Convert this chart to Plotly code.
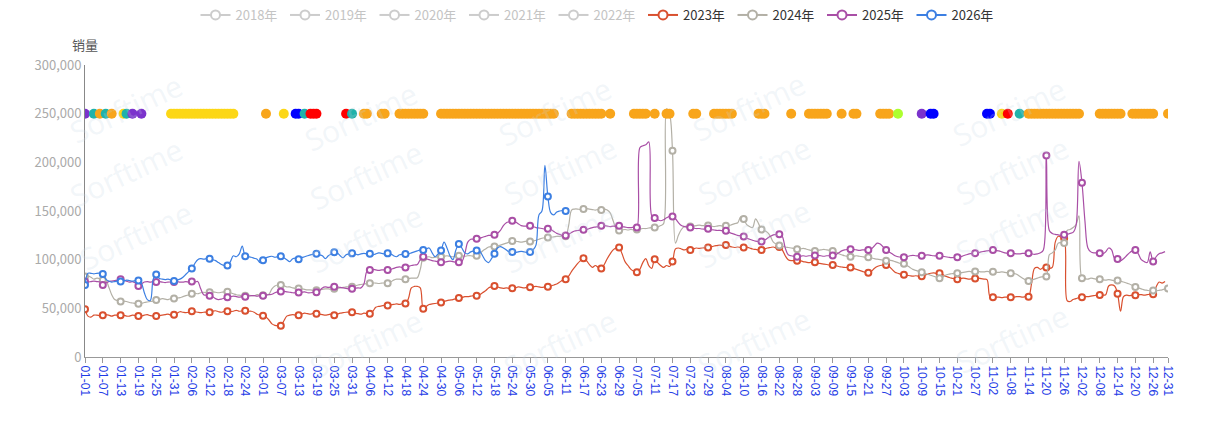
import plotly.graph_objects as go
import pandas as pd

# ---------------- categories (leap-year calendar, MM-DD) ----------------
day_labels = pd.date_range("2024-01-01", "2024-12-31").strftime("%m-%d").tolist()

# ---------------- daily sales, in thousands ----------------
sales_2023_k = [
    49, 42, 41, 43, 43, 42.5,
    43, 43.5, 43, 42, 43, 43,
    43, 43, 42, 42, 43, 42.5,
    42, 42, 43, 43.5, 42.5, 42,
    42, 42.5, 43, 43.5, 44, 43,
    43.5, 45, 46.5, 46, 45.5, 46,
    47, 46.5, 46, 45.5, 46, 46,
    46, 47, 47.5, 46.5, 46, 47,
    47, 46.5, 47, 48, 47, 47.5,
    47.5, 47, 47, 46, 44, 43,
    42.5, 41, 38, 34, 32.5, 32,
    32, 37, 42, 43, 43.5, 43,
    43, 44, 45, 44.5, 44, 45,
    44.5, 44, 43.5, 43, 43.5, 44,
    43, 44, 45, 45.5, 46, 46,
    46, 45, 44.5, 44, 45, 44.5,
    44.5, 47, 51, 52, 52.5, 53,
    53, 53.5, 54, 54.5, 54, 55,
    55, 60, 71, 72.5, 72.5, 71,
    49.5, 52, 54, 54.5, 55, 55.5,
    56, 57, 58, 58.5, 59, 60,
    60.5, 61, 62, 62, 62.5, 63,
    63, 64, 66, 68, 71, 72,
    73, 72, 71, 70.5, 71, 70.5,
    70.6, 71, 72, 71.5, 71, 71.5,
    71.7, 72, 72.5, 72, 71.5, 72,
    72.3, 73, 74, 75, 77, 79,
    80, 83, 88, 92, 96, 99,
    101.5, 99, 95, 92, 94, 92,
    91, 95, 101, 106, 110, 112,
    112.5, 106, 98, 94, 90, 88,
    87, 90, 97, 101, 94, 91,
    100.5, 97, 94, 92, 94, 93,
    98, 111, 112, 111, 110, 111,
    110, 111, 112, 111.5, 112, 112.5,
    112.5, 113, 114, 114.5, 115, 114.5,
    115, 114, 113, 112.5, 113, 112.5,
    112.5, 113, 112, 111, 110.5, 110,
    110, 111, 112, 112.5, 113, 112,
    113, 110, 104, 100, 99, 99,
    98.8, 99, 98, 97.5, 97, 97.5,
    97.4, 96.5, 96, 95.5, 95, 94.5,
    94.5, 94, 93, 92.5, 92, 92,
    92, 91, 90, 89, 88, 87,
    86.5, 88, 91, 93, 94, 94.5,
    94.5, 93, 90, 87, 86, 85,
    84.4, 84, 83.5, 83, 83.5, 83,
    83, 84, 85, 86, 86.5, 86,
    86, 85, 83, 82, 81, 80.5,
    80, 80.5, 81, 80.5, 80, 80.5,
    80.6, 81, 80.5, 80, 79.5, 62,
    61.5, 61.5, 61.5, 61, 61.5, 61.5,
    61.5, 61.5, 62, 62, 61.5, 62,
    62, 75, 91, 92, 90, 92,
    92, 91, 92, 118, 124, 123,
    122, 58, 57, 59, 60, 61,
    61.5, 62, 62, 62.5, 63, 63.5,
    63.8, 63.5, 64, 73, 74, 73,
    65, 47, 62, 63.5, 63, 63.5,
    63.5, 64, 64, 63.5, 64, 64.5,
    64.5, 72, 77, 76, 77.5,
]

sales_2024_k = [
    82.6, 83, 82, 80, 81, 80.5,
    79, 79, 72, 64, 59, 58,
    57, 57.5, 57, 56, 55.5, 55,
    54.7, 55, 56, 56.5, 57, 57.5,
    58.5, 59, 60, 59.5, 59, 60,
    60, 60.5, 61, 62, 63, 64,
    65, 65.5, 65, 66, 66.5, 66,
    66.5, 67, 66.5, 66, 66.5, 67,
    67, 66, 65, 64, 63.5, 63,
    63, 63.5, 63, 63, 64, 63.5,
    63.5, 64, 64.5, 70, 73, 74,
    74, 73.5, 72, 72, 71, 70.5,
    70.3, 70, 69.5, 69, 69, 68.5,
    68.5, 69, 69.5, 70, 70, 69.5,
    70, 70.5, 71, 71.5, 72, 72,
    72.3, 73, 74, 74.5, 75, 75.5,
    75.8, 76, 76, 75.5, 76, 76,
    75.8, 77, 79, 80, 80, 79.5,
    80, 80.5, 81, 81, 81.5, 90,
    102, 102.5, 103, 102, 102.5, 103,
    103, 103.5, 104, 103.5, 103, 103.5,
    104, 104, 103.5, 104, 104, 103.5,
    104, 106, 109, 111, 113, 113.5,
    113.5, 114, 115, 116, 117, 118,
    119.3, 119, 118.5, 118, 118.5, 119,
    118.6, 119, 120, 121, 122, 122.5,
    122.7, 123, 123.5, 124, 124, 124.5,
    124, 135, 151, 152, 152, 151.5,
    152, 152.5, 152, 151.5, 151, 151.5,
    151, 152, 151, 148, 140, 132,
    130, 130.5, 131, 130.5, 131, 130.5,
    131, 131.5, 132, 132, 132.5, 133,
    133, 133.5, 135, 137, 255, 250,
    212, 117, 125, 131, 134, 134.5,
    134, 134.5, 135, 135.5, 135, 135,
    135, 134.5, 134, 134.5, 135, 134.5,
    134.8, 135, 136, 137, 138, 144,
    141.7, 136, 134, 133, 142, 137,
    131, 130, 128, 124, 118, 116,
    114.5, 114, 113, 112.5, 112, 111.5,
    110.8, 111, 111.5, 111, 110, 109.5,
    109, 109.5, 110, 110.5, 110, 109.5,
    109, 108, 106, 105, 104, 103.5,
    103, 103.5, 104, 103.5, 103, 102.5,
    102.6, 102, 101, 100.5, 100, 99.5,
    99, 99.5, 99, 98, 97, 96,
    95.7, 94, 92, 90, 89, 88,
    87, 86, 85, 84, 83, 82,
    81, 82, 84, 85, 85.5, 86,
    86, 86.5, 87, 87.5, 88, 87.5,
    87.8, 88, 87.5, 87.5, 88, 87.5,
    87.5, 87, 87, 87.5, 87, 86.5,
    86, 86, 85, 83, 81, 79,
    78.2, 79, 80, 81, 82, 82.5,
    82.6, 105, 107, 110, 117, 117.5,
    117, 130, 131, 133, 136, 145,
    81, 80.5, 80, 81, 80.5, 80,
    80, 79.5, 79, 79.5, 79, 78.5,
    78.5, 78, 77, 76, 75, 73.5,
    72, 71, 70, 69, 68.5, 68,
    68.2, 68, 68.5, 69, 70, 70.3,
]

sales_2025_k = [
    77.5, 77, 77.5, 78, 77.5, 77,
    74, 76, 77.5, 78, 78.5, 79,
    80, 79, 78, 77, 77.5, 76,
    73, 75, 77, 77.5, 77, 77.5,
    77, 77.5, 77, 76.5, 77, 77,
    77, 77.5, 77, 77, 77.5, 77,
    77.5, 77, 77.5, 70, 64, 63.5,
    63, 62, 60, 59, 59.5, 60.5,
    61.4, 62, 62.5, 62, 61.5, 62,
    62, 62.5, 63, 63, 62.5, 63,
    63, 63.5, 64, 64.5, 66, 67,
    67.2, 67.5, 67, 66.5, 66, 66,
    66.2, 66.5, 67, 66, 66, 66.5,
    66.5, 68, 71, 72, 71.5, 72,
    72.3, 72, 71.5, 71, 70.5, 70,
    70, 70.5, 71, 71, 75, 88,
    89.5, 90, 89.5, 89, 89.5, 89.5,
    89.5, 90, 91, 92, 92.5, 92,
    92, 93, 94, 94.5, 95, 100,
    103, 101, 100, 99, 98.5, 98,
    97.4, 97.5, 98, 98.5, 98, 97.5,
    97.4, 98, 106, 118, 121, 121,
    121.4, 122, 123, 124, 125, 125,
    125.5, 127, 130, 135, 138, 139,
    140, 139, 137, 135, 134.5, 134.5,
    134.8, 134, 133, 132.5, 132, 131.5,
    131.7, 131, 129, 127, 126, 125,
    124.8, 126, 128, 129.5, 130, 130.5,
    130.7, 131, 132, 133, 133.5, 134,
    134.8, 135, 134.5, 134, 134.5, 134.5,
    134.8, 134, 133.5, 133, 133, 133.5,
    133, 215, 217, 218, 221, 145,
    142.7, 141, 140, 141, 143, 144.5,
    144.3, 142, 138, 135, 134, 133.5,
    133, 132.5, 132, 132, 131.5, 131.5,
    131.7, 131, 130.5, 130, 130, 129.5,
    129.6, 128, 127, 126, 125, 124.5,
    123.8, 122, 121, 120, 119, 118.5,
    118.6, 120, 122, 124, 125.5, 126,
    126, 124, 112, 105, 104, 103.5,
    103, 103.5, 104, 103.5, 104, 104,
    104.2, 104.5, 104, 103.5, 104, 104,
    104.2, 105, 107, 109, 110, 110.5,
    110.8, 110.5, 110, 109.5, 110, 110,
    110, 111, 114, 117, 116, 113,
    110, 108, 106, 104, 103, 102.5,
    102.6, 103, 104, 104.5, 104, 104,
    104, 104.5, 105, 104.5, 104, 104,
    104, 103.5, 103, 102.5, 102, 102.5,
    102.6, 103, 104, 105, 106, 106.5,
    106.7, 107, 108, 108.5, 109, 109.5,
    110, 109.5, 109, 108, 107, 106.5,
    106.7, 106.5, 106, 106, 106.5, 106.5,
    106.7, 106, 105.5, 106, 107, 110,
    207, 130, 127, 126, 125.5, 125,
    125.5, 126, 127, 128, 135, 201,
    179, 140, 112, 108, 107, 107,
    106.7, 106, 108, 112, 110, 101,
    100.8, 99, 101, 104, 107, 109,
    110, 106, 100, 98, 97, 108,
    98, 103, 106, 107, 108.3,
]

sales_2026_k = [
    74, 86, 86, 85.5, 86, 86,
    85.4, 80, 78, 77, 77.5, 78,
    77.5, 78, 79, 78.5, 78, 78.5,
    78.5, 76, 66, 59, 58, 80,
    84.7, 81, 80, 79.5, 80, 79,
    78, 79, 80, 82, 85, 88,
    91, 96, 100, 101, 100.5, 101,
    101, 100, 99, 97, 95, 94,
    94, 98, 104, 103, 106, 114,
    103.6, 103, 102.5, 101.5, 100.5, 97,
    99.5, 102, 103, 103.5, 102.5, 103,
    103.6, 102, 100, 98, 101, 101.5,
    100.5, 102, 103, 104, 105, 105.5,
    106, 105, 104, 101, 104, 106,
    107.7, 107, 104, 102, 105, 106,
    106.5, 106, 105, 106, 106.5, 106,
    106, 105, 106, 107, 106.5, 106,
    106.5, 106, 104, 103, 105, 105.5,
    105.7, 106, 107, 108, 109, 110,
    110, 111, 112, 107, 103, 106,
    109.4, 118, 112, 104, 100, 110,
    116, 112, 107, 106, 108, 109,
    109.4, 109, 104, 99, 97, 101,
    106, 112, 113.5, 112, 110, 108,
    108, 107.5, 108, 108.5, 108, 107.5,
    108, 110, 115, 146, 150, 197,
    165, 148, 146, 149, 150, 150.5,
    150,
]

years = ["2023年", "2024年", "2025年", "2026年"]
year_colors = ["#d9502f", "#b3b0a6", "#a94fa6", "#3c7fe2"]
series_k = [sales_2023_k, sales_2024_k, sales_2025_k, sales_2026_k]

hidden_years = ["2018年", "2019年", "2020年", "2021年", "2022年"]

# ---------------- event markers on the 250,000 row (day index) ----------------
event_level = 250000
evt_orange = [5, 9, 61, 94, 95, 100, 101,
              106, 107, 108, 109, 110, 111, 112, 113, 114,
              120, 121, 122, 123, 124, 125, 126, 127, 128, 129, 130, 131, 132, 133,
              134, 135, 136, 137, 138, 139, 140, 141, 142, 143, 144, 145, 146, 147,
              148, 149, 150, 151, 152, 153, 154, 155, 156, 157, 158,
              164, 165, 166, 167, 168, 169, 170, 171, 172, 173, 174, 177,
              185, 186, 187, 188, 189, 192, 196, 197, 205, 206,
              212, 213, 214, 215, 216, 217, 218, 227, 228, 229, 238,
              244, 245, 246, 247, 248, 249, 250, 255, 259, 260,
              268, 269, 270, 271,
              318, 319, 320, 321, 322, 323, 324, 325, 326, 327, 328, 329, 330,
              331, 332, 333, 334, 335,
              342, 343, 344, 345, 346, 347, 348, 349,
              353, 354, 355, 356, 357, 358, 359, 360, 365]
evt_yellow = [13, 29, 30, 31, 32, 33, 34, 35, 36, 37, 38, 39, 40, 41, 42, 43, 44,
              45, 46, 47, 48, 49, 50, 67, 309]
evt_teal = [3, 7, 14, 74, 90, 315]
evt_purple = [0, 16, 19, 282]
evt_red = [76, 77, 78, 88, 311]
evt_blue = [71, 72, 285, 286, 304, 305]
evt_green = [274]

evt_palette = {
    "orange": "#f8a51b", "yellow": "#fcd716", "teal": "#20b2aa",
    "purple": "#7b33cc", "red": "#ff0000", "blue": "#0000ff", "green": "#adff2f",
}
evt_groups = [("orange", evt_orange), ("yellow", evt_yellow), ("teal", evt_teal),
              ("purple", evt_purple), ("red", evt_red), ("blue", evt_blue),
              ("green", evt_green)]

fig = go.Figure()

# legend-only entries
for name in hidden_years:
    fig.add_trace(go.Scatter(
        x=[None], y=[None], mode="lines+markers",
        name='<span style="color:#c4c4c4">' + name + "</span>",
        line=dict(color="#cccccc", width=2),
        marker=dict(symbol="circle", size=9, color="white",
                    line=dict(color="#cccccc", width=2)),
    ))
for name, col in zip(years, year_colors):
    fig.add_trace(go.Scatter(
        x=[None], y=[None], mode="lines+markers", name=name,
        line=dict(color=col, width=2),
        marker=dict(symbol="circle", size=9, color="white",
                    line=dict(color=col, width=2)),
    ))

# data lines + periodic markers
n_days = len(day_labels)
for name, col, vals in zip(years, year_colors, series_k):
    n = len(vals)
    xs = day_labels[:n]
    ys = [v * 1000 for v in vals]
    fig.add_trace(go.Scatter(
        x=xs, y=ys, mode="lines", showlegend=False, hoverinfo="skip",
        line=dict(color=col, width=1.2, shape="spline", smoothing=1.0),
    ))
    idx = list(range(0, n, 6))
    if n == n_days and (n - 1) not in idx:
        idx.append(n - 1)
    fig.add_trace(go.Scatter(
        x=[xs[i] for i in idx], y=[ys[i] for i in idx], mode="markers",
        showlegend=False, name=name,
        marker=dict(symbol="circle", size=6, color="white",
                    line=dict(color=col, width=2)),
    ))

# event dots (drawn in date order so later days sit on top)
events = sorted((d, evt_palette[c]) for c, days in evt_groups for d in days)
fig.add_trace(go.Scatter(
    x=[day_labels[d] for d, _ in events],
    y=[event_level] * len(events),
    mode="markers", showlegend=False, hoverinfo="skip",
    marker=dict(size=10, color=[c for _, c in events], line=dict(width=0)),
))

# x ticks every 6 days plus the last day
tick_idx = list(range(0, n_days, 6))
if (n_days - 1) not in tick_idx:
    tick_idx.append(n_days - 1)
tick_vals = [day_labels[i] for i in tick_idx]

# watermark
L, R, T, B = 85, 46, 65, 76
W, H = 1214, 433
pw, ph = W - L - R, H - T - B
wm_px = [(60, 62), (295, 70), (555, 65), (815, 60), (1075, 65),
         (60, 172), (300, 175), (560, 170), (820, 170), (1078, 170),
         (70, 282), (300, 285), (560, 285), (820, 280), (1078, 275),
         (300, 390), (560, 390), (820, 388), (1078, 385)]
annotations = []
for px, py in wm_px:
    annotations.append(dict(
        x=(px - L) / pw, y=(H - B - py) / ph, xref="paper", yref="paper",
        text="Sorftime", showarrow=False, textangle=-25,
        font=dict(size=30, color="rgba(200,214,228,0.24)", family="Open Sans"),
    ))
annotations.append(dict(
    x=0, y=(H - B - 44) / ph, xref="paper", yref="paper", text="销量",
    showarrow=False, xanchor="center", yanchor="middle",
    font=dict(size=13, color="#555555", family="Noto Sans CJK SC"),
))

fig.update_layout(
    width=W, height=H, autosize=False,
    margin=dict(l=L, r=R, t=T, b=B),
    paper_bgcolor="white", plot_bgcolor="white",
    font=dict(family="Noto Sans CJK SC, Liberation Sans, sans-serif", size=13,
              color="#333333"),
    showlegend=True,
    legend=dict(orientation="h", x=0.493, xref="container", xanchor="center",
                y=1.0, yref="container", yanchor="top",
                font=dict(size=13, color="#333333", family="Noto Sans CJK SC"),
                itemwidth=30, entrywidth=44.5, entrywidthmode="pixels",
                bgcolor="rgba(0,0,0,0)", tracegroupgap=0),
    annotations=annotations,
    xaxis=dict(
        type="category", categoryorder="array", categoryarray=day_labels,
        range=[0, n_days - 1], tickmode="array", tickvals=tick_vals,
        ticktext=tick_vals, tickangle=90,
        tickfont=dict(size=12, color="#1d3be6", family="Liberation Sans"),
        showline=True, linecolor="#999999", linewidth=1,
        ticks="outside", ticklen=5, tickcolor="#999999",
        showgrid=False, zeroline=False,
    ),
    yaxis=dict(
        range=[0, 300000], tickmode="array",
        tickvals=[0, 50000, 100000, 150000, 200000, 250000, 300000],
        tickformat=",", tickfont=dict(size=13, color="#aaaaaa"),
        showline=True, linecolor="#888888", linewidth=1,
        ticks="", showgrid=False, zeroline=False,
    ),
)

fig.write_html(
    "out.html",
    config={"displayModeBar": False},
    post_script="document.body.style.margin='0px';document.body.style.overflow='hidden';",
)
